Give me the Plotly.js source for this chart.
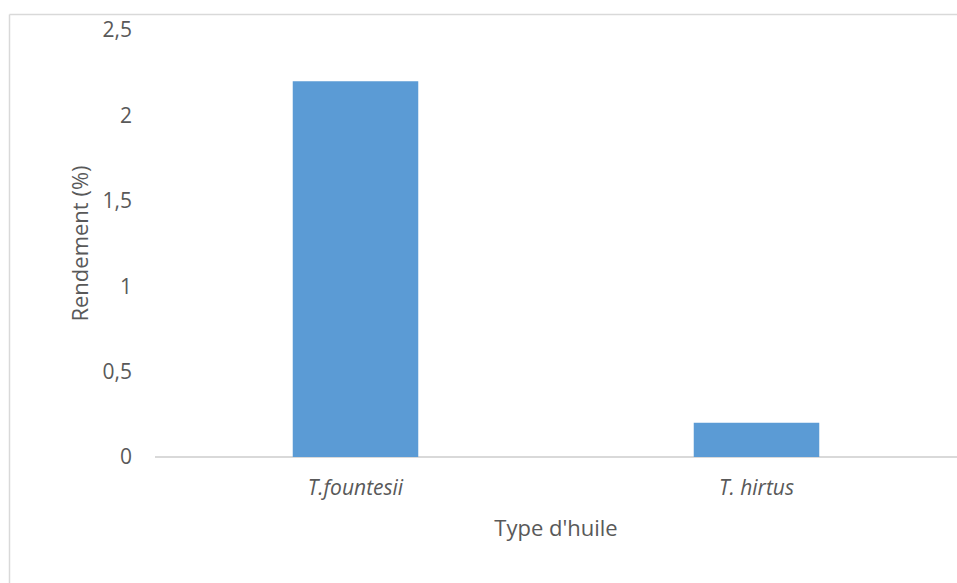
<!DOCTYPE html>
<html>
<head>
<meta charset="utf-8">
<script src="https://cdn.plot.ly/plotly-3.0.1.min.js"></script>
<style>html,body{margin:0;padding:0;overflow:hidden;background:#fff}</style>
</head>
<body>
<div id="chart" style="width:957px;height:583px"></div>
<script>
var categories = ["T.fountesii", "T. hirtus"];
var rendement = [2.2, 0.2];
var yTickVals = [0, 0.5, 1, 1.5, 2, 2.5];
var yTickText = ["0", "0,5", "1", "1,5", "2", "2,5"];

var font = "Open Sans, Noto Sans, sans-serif";
var txt = "#595959";
var fs = 22;

var trace = {
  type: "bar",
  x: categories,
  y: rendement,
  marker: {color: "#5B9BD5", line: {width: 0}},
  hoverinfo: "x+y"
};

var bx = (9.5 - 155) / 802, by = (457 - 14.5) / 427;

var layout = {
  width: 957, height: 583,
  margin: {l: 155, r: 0, t: 30, b: 126},
  paper_bgcolor: "#fff", plot_bgcolor: "#fff",
  bargap: 0.687,
  showlegend: false,
  font: {family: font, color: txt, size: fs},
  xaxis: {
    type: "category",
    tickvals: categories,
    ticktext: categories.map(function(c){return "<i>" + c + "</i>";}),
    showgrid: false, zeroline: false,
    showline: false,
    ticks: "", ticklabelstandoff: 16,
    tickfont: {family: font, size: fs - 1, color: txt},
    title: {text: "Type d'huile", font: {family: font, size: fs, color: txt}, standoff: 20},
    automargin: false
  },
  yaxis: {
    range: [0, 2.5],
    tickvals: yTickVals, ticktext: yTickText,
    showgrid: false, zeroline: true, zerolinecolor: "#d9d9d9", zerolinewidth: 1.5,
    showline: false, ticks: "", ticklabelstandoff: 22,
    tickfont: {family: font, size: fs - 1, color: txt},
    title: {text: "Rendement (%)", font: {family: font, size: fs, color: txt}, standoff: 7},
    automargin: false
  },
  shapes: [
    {type: "line", xref: "paper", yref: "paper", x0: bx, x1: bx, y0: -0.4, y1: by,
     line: {color: "#d9d9d9", width: 1.5}, layer: "below"},
    {type: "line", xref: "paper", yref: "paper", x0: bx, x1: 1.05, y0: by, y1: by,
     line: {color: "#d9d9d9", width: 1.5}, layer: "below"}
  ]
};

Plotly.newPlot("chart", [trace], layout, {displayModeBar: false, staticPlot: true});
</script>
</body>
</html>
